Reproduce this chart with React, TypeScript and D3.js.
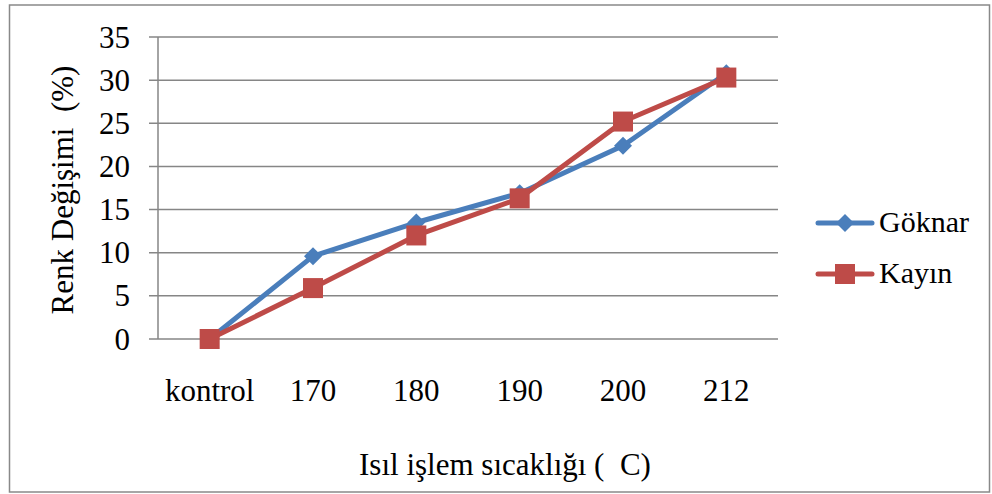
import React from "react";
import * as d3 from "d3";

const categories = ["kontrol", "170", "180", "190", "200", "212"];
const goknar = [0, 9.6, 13.5, 16.9, 22.4, 30.8];
const kayin = [0, 5.9, 12.0, 16.3, 25.2, 30.3];
const yTicks = [0, 5, 10, 15, 20, 25, 30, 35];
const seriesNames = ["Göknar", "Kayın"];
const colors = ["#4A7EBB", "#BE4B48"];

const W = 992, H = 494;
const left = 158, right = 778, top = 37, bottom = 339;
const font = "'Liberation Serif', 'Times New Roman', serif";

export default function App() {
  const x = d3.scaleBand().domain(categories).range([left, right]);
  const y = d3.scaleLinear().domain([0, 35]).range([bottom, top]);
  const cx = (c: string) => (x(c) as number) + x.bandwidth() / 2;
  const line = d3.line<number>().x((_, i) => cx(categories[i])).y((d) => y(d));
  const series = [goknar, kayin];

  const diamond = (px: number, py: number, r: number) =>
    `M${px},${py - r}L${px + r},${py}L${px},${py + r}L${px - r},${py}Z`;

  return (
    <svg width={W} height={H} style={{ position: "absolute", left: 0, top: 0, background: "#fff" }}>
      <rect x={9.5} y={5} width={980} height={487} fill="#fff" stroke="#898989" strokeWidth={1.5} />
      {yTicks.map((t) => (
        <g key={t}>
          <line x1={149} x2={right} y1={y(t)} y2={y(t)} stroke="#868686" strokeWidth={1.5} />
          <text x={130} y={y(t)} dy="0.34em" textAnchor="end" fontFamily={font} fontSize={31} fill="#000">
            {t}
          </text>
        </g>
      ))}
      <line x1={left} x2={left} y1={top} y2={bottom} stroke="#868686" strokeWidth={1.5} />
      {categories.map((c) => (
        <text key={c} x={cx(c)} y={401} textAnchor="middle" fontFamily={font} fontSize={31} fill="#000">
          {c}
        </text>
      ))}
      {series.map((s, si) => (
        <g key={si}>
          <path d={line(s) || ""} fill="none" stroke={colors[si]} strokeWidth={5} strokeLinejoin="round" />
          {s.map((v, i) =>
            si === 0 ? (
              <path key={i} d={diamond(cx(categories[i]), y(v), 9)} fill={colors[si]} />
            ) : (
              <rect key={i} x={cx(categories[i]) - 10} y={y(v) - 10} width={20} height={20} fill={colors[si]} />
            )
          )}
        </g>
      ))}
      {seriesNames.map((n, i) => {
        const ly = 223 + i * 51;
        return (
          <g key={n}>
            <line x1={818} x2={872} y1={ly} y2={ly} stroke={colors[i]} strokeWidth={5} strokeLinecap="round" />
            {i === 0 ? (
              <path d={diamond(845, ly, 9)} fill={colors[i]} />
            ) : (
              <rect x={835} y={ly - 10} width={20} height={20} fill={colors[i]} />
            )}
            <text x={879} y={ly + 9} fontFamily={font} fontSize={30} fill="#000">
              {n}
            </text>
          </g>
        );
      })}
      <text x={505} y={475} textAnchor="middle" fontFamily={font} fontSize={31} fill="#000" style={{ whiteSpace: "pre" }}>
        {"Isıl işlem sıcaklığı (  C)"}
      </text>
      <text
        transform={`translate(73,190) rotate(-90)`}
        textAnchor="middle"
        fontFamily={font}
        fontSize={31}
        fill="#000"
        style={{ whiteSpace: "pre" }}
      >
        {"Renk Değişimi  (%)"}
      </text>
    </svg>
  );
}
